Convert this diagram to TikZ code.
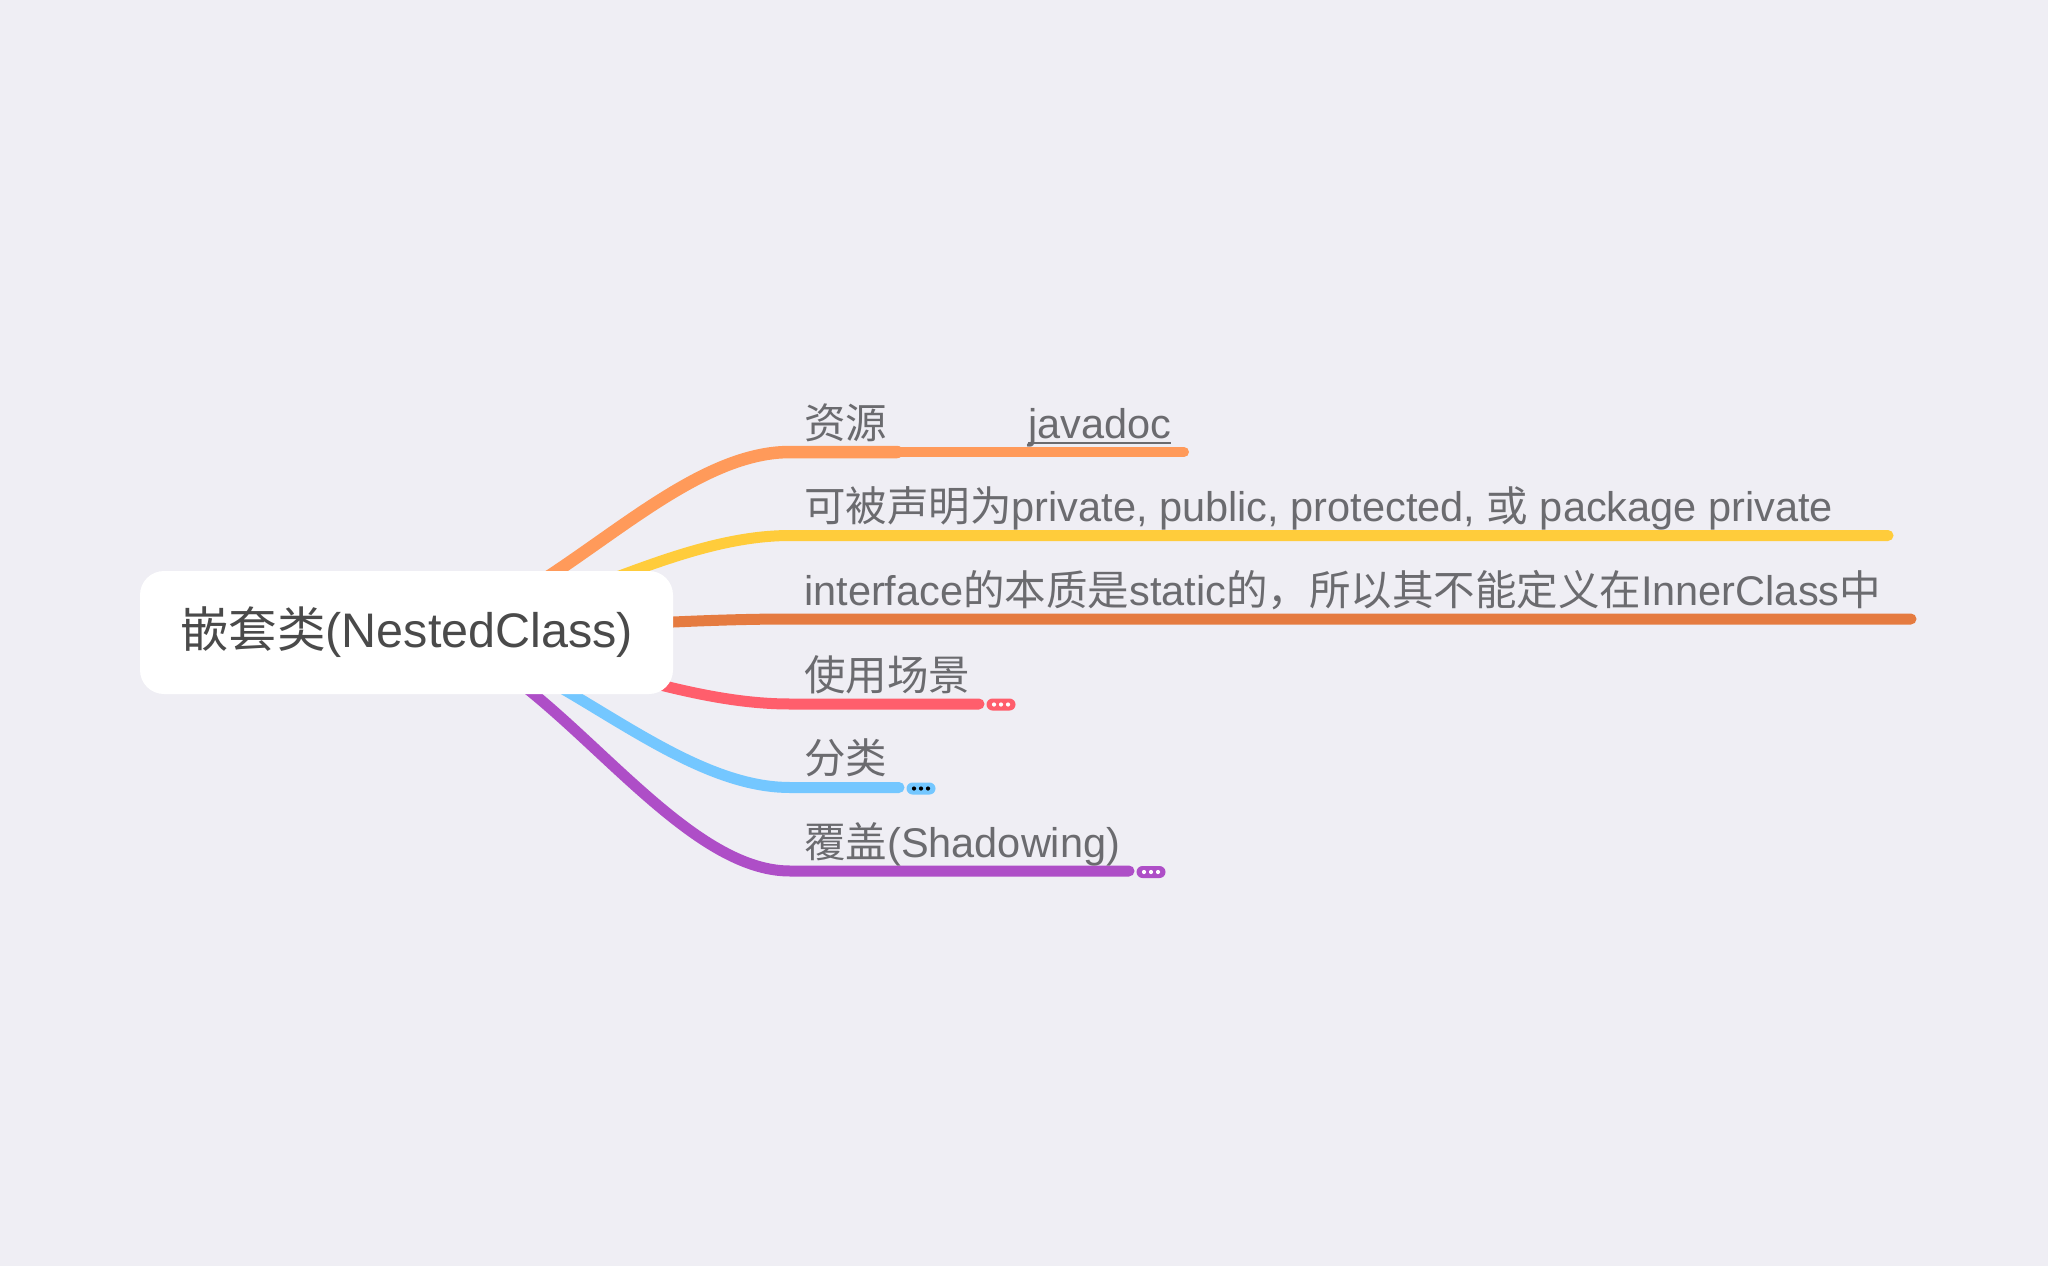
\documentclass[tikz,border=0pt]{standalone}
\usepackage{fontspec}
\setmainfont{Liberation Sans}
\newfontfamily\cjk{Noto Sans CJK SC}
\usetikzlibrary{backgrounds}
\definecolor{bgc}{HTML}{EFEEF4}
\definecolor{txt}{HTML}{6B6B6F}
\definecolor{roottxt}{HTML}{4A4A4A}
\definecolor{cOrange}{HTML}{FF9A5A}
\definecolor{cYellow}{HTML}{FFCC3B}
\definecolor{cDark}{HTML}{E57B40}
\definecolor{cRed}{HTML}{FF5E6C}
\definecolor{cBlue}{HTML}{74C7FF}
\definecolor{cPurple}{HTML}{AE4EC7}
\tikzset{
  rootbox/.style={draw=none, fill=white, rounded corners=24pt, minimum width=533pt, minimum height=123pt, inner sep=0pt, text=roottxt, font=\fontsize{48.5}{56}\selectfont},
  lbl/.style={anchor=base west, inner sep=0pt, text=txt, font=\fontsize{41.5}{50}\selectfont},
  branch/.style={line width=11pt, line cap=round},
  pill/.style={rounded corners=6pt, minimum width=29pt, minimum height=12pt, inner sep=0pt},
}
\begin{document}
\begin{tikzpicture}[x=1pt,y=-1pt]
\useasboundingbox (0,0) rectangle (2048,1266);
% root
\node[rootbox] (root) at (406.5,632.5) {{\cjk 嵌套类}(NestedClass)};
% branch anchor coordinates
\coordinate (s1) at (790,452);   \coordinate (m1) at (897,452); \coordinate (e1) at (1184,452);
\coordinate (s2) at (790,535.5); \coordinate (e2) at (1888,535.5);
\coordinate (s3) at (790,619);   \coordinate (e3) at (1911,619);
\coordinate (s4) at (790,704);   \coordinate (e4) at (979,704);
\coordinate (s5) at (790,787.5); \coordinate (e5) at (899,787.5);
\coordinate (s6) at (790,871);   \coordinate (e6) at (1129,871);
% labels
\node[lbl] (t1) at (804,438) {\cjk 资源};
\node[lbl] (t1b) at (1028,438) {javadoc};
\draw[txt, line width=2.4pt] (t1b.base west) ++(0,5) -- ([yshift=-5pt]t1b.base east);
\node[lbl] (t2) at (804,521.5) {{\cjk 可被声明为}private, public, protected, {\cjk 或} package private};
\node[lbl] (t3) at (804,605) {interface{\cjk 的本质是}static{\cjk 的，所以其不能定义在}InnerClass{\cjk 中}};
\node[lbl] (t4) at (804,690) {\cjk 使用场景};
\node[lbl] (t5) at (804,773.5) {\cjk 分类};
\node[lbl] (t6) at (804,857) {{\cjk 覆盖}(Shadowing)};
% pills
\node[pill, fill=cRed] (p4) at (1001,704.5) {};
\node[pill, fill=cBlue] (p5) at (921,788.5) {};
\node[pill, fill=cPurple] (p6) at (1151,872) {};
\foreach \d in {-7,0,7} {
  \fill[white] (p4.center) ++(\d,0) circle[radius=2.1pt];
  \fill[black] (p5.center) ++(\d,0) circle[radius=2.1pt];
  \fill[white] (p6.center) ++(\d,0) circle[radius=2.1pt];
}
\begin{scope}[on background layer]
\fill[bgc] (0,0) rectangle (2048,1266);
\draw[branch, cOrange, line width=12.5pt] (root.center) .. controls +(127,0) and +(-127,0) .. (s1) -- (m1);
\draw[branch, cOrange, line width=10pt] (m1) -- (e1);
\draw[branch, cYellow] (root.center) .. controls +(127,0) and +(-127,0) .. (s2) -- (e2);
\draw[branch, cDark] (root.center) .. controls +(127,0) and +(-127,0) .. (s3) -- (e3);
\draw[branch, cRed] (root.center) .. controls +(127,0) and +(-127,0) .. (s4) -- (e4);
\draw[branch, cBlue] (root.center) .. controls +(127,0) and +(-127,0) .. (s5) -- (e5);
\draw[branch, cPurple] (root.center) .. controls +(127,0) and +(-127,0) .. (s6) -- (e6);
\end{scope}
\end{tikzpicture}
\end{document}
